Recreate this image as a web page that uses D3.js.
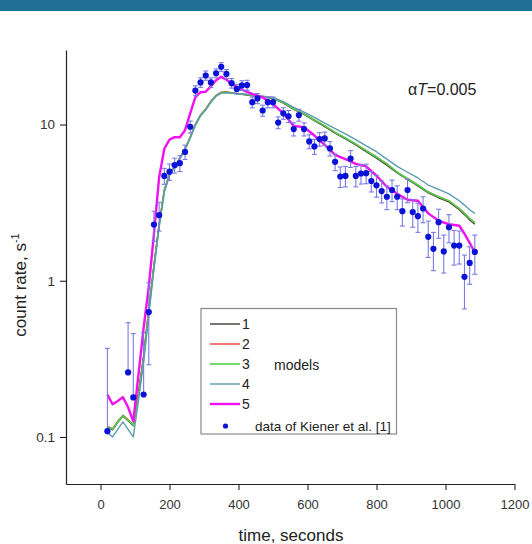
<!DOCTYPE html>
<html>
<head>
<meta charset="utf-8">
<script src="https://cdn.jsdelivr.net/npm/d3@7"></script>
<style>
  html, body { margin: 0; padding: 0; background: #fff; }
  svg { display: block; font-family: "Liberation Sans", Arial, sans-serif; }
</style>
</head>
<body>
<svg id="chart" width="532" height="544"></svg>
<script>
// Measured count rate (time in s, rate in 1/s, 1-sigma error)
const dataTime = [20, 80, 95, 125, 140, 155, 170, 185, 200, 215, 230, 245, 260, 275, 290, 305, 320, 335, 350, 365,
  380, 395, 410, 425, 440, 455, 470, 485, 500, 515, 530, 545, 560, 575, 590, 605, 620, 635, 650, 665,
  680, 695, 710, 725, 740, 755, 770, 785, 800, 815, 830, 845, 860, 875, 890, 905, 920, 935, 950, 965,
  980, 995, 1010, 1025, 1040, 1055, 1070, 1085];
const dataRate = [0.109, 0.259, 0.179, 0.187, 0.63, 2.29, 2.63, 4.69, 4.99, 5.49, 5.66, 6.68, 9.68, 16.5, 18.6, 20.6, 18.6, 21.3, 23.4, 21.1,
  18.4, 16.9, 17.8, 17.9, 13.9, 14.7, 12.3, 13.9, 13.9, 10.3, 11.8, 11.3, 9.35, 11.5, 9.35, 7.8, 7.24, 8.07, 8.15, 7.03,
  5.77, 4.65, 4.69, 6.06, 4.69, 4.86, 4.88, 4.35, 4.08, 3.75, 3.45, 3.81, 3.45, 2.79, 3.81, 2.75, 2.59, 2.90, 1.91, 1.60,
  2.37, 1.54, 2.20, 1.68, 1.68, 1.06, 1.30, 1.53];
const dataErr = [0.26, 0.28, 0.28, 0.28, 0.34, 0.5, 0.55, 0.55, 0.6, 0.6, 0.65, 0.7, 0.85, 1.2, 1.3, 1.4, 1.3, 1.4, 1.5, 1.4,
  1.3, 1.2, 1.3, 1.3, 1.1, 1.1, 1.0, 1.1, 1.1, 0.9, 1.0, 1.0, 0.9, 1.0, 0.9, 0.8, 0.8, 0.8, 0.8, 0.75,
  0.7, 0.7, 0.7, 0.75, 0.7, 0.7, 0.7, 0.65, 0.65, 0.6, 0.6, 0.6, 0.6, 0.55, 0.65, 0.55, 0.55, 0.55, 0.5, 0.44,
  0.5, 0.42, 0.45, 0.42, 0.4, 0.4, 0.35, 0.43];

// Model light curves, sampled on a common time grid
const modelTime = [20, 35, 50, 65, 80, 95, 110, 125, 140, 155, 170, 185, 200, 215, 230, 245, 260, 275, 290, 305,
  320, 335, 350, 365, 380, 410, 440, 470, 500, 530, 560, 590, 620, 650, 680, 710, 740, 770, 800, 830,
  860, 890, 920, 950, 980, 1010, 1040, 1055, 1070, 1085];
const model1 = [0.115, 0.111, 0.124, 0.136, 0.127, 0.118, 0.19, 0.33, 0.66, 1.26, 2.3, 3.8, 4.8, 5.4, 6.1, 7.0, 8.3, 10.0, 11.5, 12.5,
  14.0, 15.3, 16.0, 16.1, 15.9, 15.6, 15.3, 15.0, 14.7, 13.7, 12.5, 11.6, 10.6, 9.7, 8.8, 8.1, 7.4, 6.7, 6.1, 5.5,
  4.9, 4.45, 4.05, 3.65, 3.4, 3.2, 2.85, 2.65, 2.45, 2.3];
const model2 = [0.117, 0.113, 0.126, 0.138, 0.129, 0.12, 0.19, 0.33, 0.66, 1.25, 2.3, 3.8, 4.8, 5.4, 6.1, 7.0, 8.3, 10.0, 11.5, 12.6,
  14.1, 15.4, 16.1, 16.2, 16.0, 15.7, 15.4, 15.1, 14.8, 13.8, 12.6, 11.7, 10.7, 9.8, 8.9, 8.2, 7.5, 6.8, 6.2, 5.6,
  4.95, 4.5, 4.1, 3.7, 3.45, 3.25, 2.9, 2.7, 2.5, 2.35];
const model3 = [0.116, 0.112, 0.125, 0.137, 0.128, 0.119, 0.18, 0.32, 0.64, 1.22, 2.25, 3.75, 4.75, 5.35, 6.05, 6.95, 8.25, 9.9, 11.4, 12.5,
  14.0, 15.3, 16.0, 16.1, 15.9, 15.7, 15.4, 15.1, 14.8, 13.8, 12.6, 11.7, 10.7, 9.8, 8.9, 8.2, 7.5, 6.8, 6.2, 5.6,
  4.95, 4.5, 4.1, 3.7, 3.45, 3.25, 2.9, 2.7, 2.5, 2.35];
const model4 = [0.107, 0.1, 0.112, 0.125, 0.112, 0.1, 0.17, 0.3, 0.6, 1.2, 2.2, 3.7, 4.7, 5.35, 6.05, 6.9, 8.2, 9.9, 11.4, 12.4,
  13.9, 15.2, 15.9, 16.0, 15.9, 15.7, 15.5, 15.2, 14.9, 14.0, 12.9, 12.0, 11.1, 10.2, 9.4, 8.7, 8.0, 7.3, 6.7, 6.0,
  5.4, 4.95, 4.55, 4.1, 3.85, 3.6, 3.25, 3.05, 2.85, 2.7];
const model5 = [0.187, 0.162, 0.17, 0.18, 0.155, 0.126, 0.25, 0.5, 0.92, 2.0, 4.6, 7.0, 8.0, 8.3, 8.3, 9.2, 11.8, 15.0, 16.1, 16.2,
  17.6, 19.2, 20.2, 19.4, 18.2, 16.7, 15.7, 14.9, 13.5, 11.8, 9.8, 9.6, 8.5, 7.4, 6.4, 6.0, 5.6, 5.4, 4.7, 4.0,
  3.6, 3.3, 3.25, 2.7, 2.42, 2.3, 2.25, 2.0, 1.75, 1.52];

const modelNames = ["1", "2", "3", "4", "5"];
const modelColors = ["#3c3c36", "#e8423a", "#4ed24e", "#5a9cae", "#f010f0"];
const modelWidths = [1.4, 1.4, 1.6, 1.4, 2.4];
const modelSeries = [model1, model2, model3, model4, model5];

const xTicksMajor = [0, 200, 400, 600, 800, 1000, 1200];
const xTicksMinor = [-100, 100, 300, 500, 700, 900, 1100];
const yTicksMajor = [0.1, 1, 10];
const yTicksMinor = [0.05, 0.06, 0.07, 0.08, 0.09, 0.2, 0.3, 0.4, 0.5, 0.6, 0.7, 0.8, 0.9,
  2, 3, 4, 5, 6, 7, 8, 9, 20, 30];

const svg = d3.select("#chart");

// header band
svg.append("rect").attr("x", 0).attr("y", 0).attr("width", 532).attr("height", 11)
  .attr("fill", "#1f6f96");

const x = d3.scaleLinear().domain([-100, 1200]).range([66, 514.5]);
const y = d3.scaleLog().domain([0.05, 30]).range([484, 50]);

const fmtY = d => (d >= 1 ? d3.format("d")(d) : String(d));

// axes
const gx = svg.append("g").attr("transform", "translate(0,484)");
gx.call(d3.axisBottom(x).tickValues(xTicksMinor).tickSize(4).tickFormat(""));
gx.call(d3.axisBottom(x).tickValues(xTicksMajor).tickSize(6).tickFormat(d3.format("d")).tickSizeOuter(0));
const gy = svg.append("g").attr("transform", "translate(66,0)");
gy.call(d3.axisLeft(y).tickValues(yTicksMinor).tickSize(3).tickFormat(""));
gy.call(d3.axisLeft(y).tickValues(yTicksMajor).tickSize(6).tickFormat(fmtY).tickSizeOuter(0));

svg.selectAll(".domain").attr("stroke", "#222").attr("stroke-width", 1.2);
svg.selectAll(".tick line").attr("stroke", "#222").attr("stroke-width", 1.1);
gx.selectAll(".tick text").attr("font-size", 13).attr("fill", "#333").attr("dy", "1.2em")
  .style("font-family", "Liberation Sans, Arial, sans-serif");
gy.selectAll(".tick text").attr("font-size", 13.5).attr("fill", "#333").attr("dx", "-0.15em")
  .style("font-family", "Liberation Sans, Arial, sans-serif");

// axis titles
svg.append("text").attr("x", 291).attr("y", 541).attr("text-anchor", "middle")
  .attr("font-size", 17).attr("fill", "#222").text("time, seconds");
const yt = svg.append("text").attr("transform", "translate(26,285) rotate(-90)")
  .attr("text-anchor", "middle").attr("font-size", 17).attr("fill", "#222");
yt.append("tspan").text("count rate, s");
yt.append("tspan").attr("dy", -7).attr("font-size", 11).text("-1");

// model curves
const line = d3.line().x(d => x(d[0])).y(d => y(d[1]));
modelSeries.forEach((vals, i) => {
  svg.append("path")
    .datum(modelTime.map((t, j) => [t, vals[j]]))
    .attr("fill", "none")
    .attr("stroke", modelColors[i])
    .attr("stroke-width", modelWidths[i])
    .attr("stroke-linejoin", "round")
    .attr("d", line);
});

// measured points with error bars
const pts = dataTime.map((t, i) => ({ t, v: dataRate[i], e: dataErr[i] }));
const eb = svg.append("g").attr("stroke", "#7a7ae6").attr("stroke-width", 1.1);
pts.forEach(p => {
  const xp = x(p.t);
  const top = y(p.v + p.e);
  const lowV = p.v - p.e;
  const bot = lowV > 0.05 ? y(lowV) : y(p.v);
  eb.append("line").attr("x1", xp).attr("x2", xp).attr("y1", top).attr("y2", bot);
  eb.append("line").attr("x1", xp - 2.5).attr("x2", xp + 2.5).attr("y1", top).attr("y2", top);
  if (lowV > 0.05) {
    eb.append("line").attr("x1", xp - 2.5).attr("x2", xp + 2.5).attr("y1", bot).attr("y2", bot);
  }
});
svg.append("g").selectAll("circle").data(pts).join("circle")
  .attr("cx", d => x(d.t)).attr("cy", d => y(d.v)).attr("r", 3.1)
  .attr("fill", "#0a12d8");

// annotation
const ann = svg.append("text").attr("x", 408).attr("y", 95).attr("font-size", 16).attr("fill", "#222");
ann.append("tspan").text("\u03b1");
ann.append("tspan").attr("font-style", "italic").text("T");
ann.append("tspan").text("=0.005");

// legend
const lg = svg.append("g");
lg.append("rect").attr("x", 201).attr("y", 308.5).attr("width", 195.5).attr("height", 125.5)
  .attr("fill", "#fff").attr("stroke", "#8a8a8a").attr("stroke-width", 1.2);
modelNames.forEach((n, i) => {
  const yy = 324 + i * 20;
  lg.append("line").attr("x1", 210).attr("x2", 240).attr("y1", yy).attr("y2", yy)
    .attr("stroke", modelColors[i]).attr("stroke-width", modelWidths[i]);
  lg.append("text").attr("x", 242).attr("y", yy + 5).attr("font-size", 14).attr("fill", "#222").text(n);
});
lg.append("text").attr("x", 274).attr("y", 370).attr("font-size", 14).attr("fill", "#222").text("models");
lg.append("circle").attr("cx", 225.5).attr("cy", 426).attr("r", 2.6).attr("fill", "#0a12d8");
lg.append("text").attr("x", 255).attr("y", 431).attr("font-size", 13.5).attr("fill", "#222")
  .text("data of Kiener et al. [1]");
</script>
</body>
</html>
